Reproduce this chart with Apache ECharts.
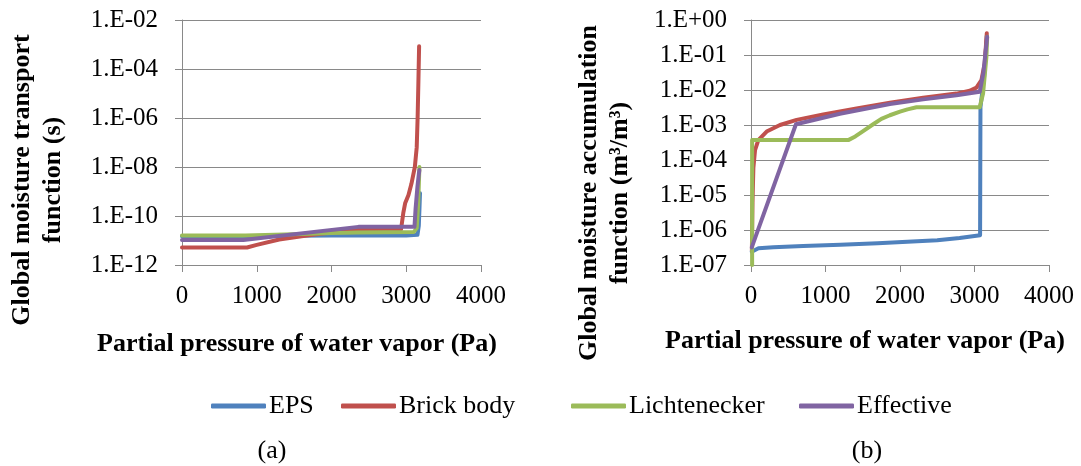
<!DOCTYPE html>
<html>
<head>
<meta charset="utf-8">
<script src="https://cdn.jsdelivr.net/npm/echarts@6/dist/echarts.min.js"></script>
<style>
html,body{margin:0;padding:0;background:#fff;}
#main{width:1081px;height:466px;}
</style>
</head>
<body>
<div id="main"></div>
<script>
// ---------- DATA ----------
const seriesNames = ['EPS', 'Brick body', 'Lichtenecker', 'Effective'];
const xTickValues = [0, 1000, 2000, 3000, 4000];
const xTickLabels = ['0', '1000', '2000', '3000', '4000'];

// (a) Global moisture transport function (s)
const leftTickValues = [1e-12, 1e-10, 1e-8, 1e-6, 1e-4, 1e-2];
const leftTickLabels = ['1.E-12', '1.E-10', '1.E-08', '1.E-06', '1.E-04', '1.E-02'];

const pA_EPS = [0, 500, 1000, 1500, 2000, 2500, 3000, 3150, 3168, 3178, 3184];
const vA_EPS = [1.5e-11, 1.5e-11, 1.5e-11, 1.55e-11, 1.6e-11, 1.6e-11, 1.6e-11, 1.7e-11, 4e-11, 2.5e-10, 8.5e-10];

const pA_Brick = [0, 870, 1000, 1300, 1600, 1850, 2100, 2350, 2930, 2960, 2985, 3030, 3070, 3115, 3140, 3152, 3162, 3172];
const vA_Brick = [5.2e-12, 5.2e-12, 6.6e-12, 1.1e-11, 1.5e-11, 1.9e-11, 2.3e-11, 2.7e-11, 2.8e-11, 1.3e-10, 3.3e-10, 7.2e-10, 2.1e-9, 1e-8, 6.3e-8, 1e-6, 2.5e-5, 8.5e-4];

const pA_Lich = [0, 850, 1500, 2000, 2350, 3100, 3140, 3160, 3176];
const vA_Lich = [1.6e-11, 1.6e-11, 1.8e-11, 2e-11, 2.1e-11, 2.2e-11, 3.2e-11, 3.2e-10, 1e-8];

const pA_Eff = [0, 820, 2360, 3110, 3125, 3150, 3168, 3176];
const vA_Eff = [1.05e-11, 1.05e-11, 3.6e-11, 3.6e-11, 2e-10, 1.6e-9, 5e-9, 7.5e-9];

// (b) Global moisture accumulation function (m3/m3)
const rightTickValues = [1e-7, 1e-6, 1e-5, 1e-4, 1e-3, 1e-2, 1e-1, 1];
const rightTickLabels = ['1.E-07', '1.E-06', '1.E-05', '1.E-04', '1.E-03', '1.E-02', '1.E-01', '1.E+00'];

const pB_EPS = [10, 100, 300, 700, 1200, 1700, 2100, 2500, 2800, 3075, 3080, 3130, 3165];
const vB_EPS = [2.4e-7, 3e-7, 3.2e-7, 3.5e-7, 3.8e-7, 4.2e-7, 4.6e-7, 5.1e-7, 5.9e-7, 7.1e-7, 3.2e-3, 2.5e-2, 3.5e-1];

const pB_Brick = [12, 20, 32, 54, 98, 210, 389, 612, 970, 1417, 1864, 2311, 2758, 2936, 3026, 3093, 3137, 3165];
const vB_Brick = [2.5e-7, 6e-6, 6e-5, 1.9e-4, 3.7e-4, 6.5e-4, 1e-3, 1.4e-3, 2e-3, 2.95e-3, 4.3e-3, 6e-3, 7.9e-3, 9.5e-3, 1.17e-2, 1.9e-2, 5.8e-2, 4.2e-1];

const pB_Lich = [15, 15, 1305, 1400, 1500, 1640, 1750, 1864, 2000, 2100, 2221, 3070, 3115, 3160, 3170];
const vB_Lich = [1e-7, 3.7e-4, 3.7e-4, 4.7e-4, 6.6e-4, 1.05e-3, 1.5e-3, 1.9e-3, 2.4e-3, 2.8e-3, 3.2e-3, 3.2e-3, 7.9e-3, 8.9e-2, 3.3e-1];

const pB_Eff = [10, 603, 1193, 1864, 2311, 2758, 3070, 3120, 3170];
const vB_Eff = [3.2e-7, 1.05e-3, 2.1e-3, 4e-3, 5.4e-3, 7.1e-3, 8.9e-3, 3.2e-2, 3.3e-1];

// ---------- STYLE ----------
const colors = ['#4F81BD', '#C0504D', '#9BBB59', '#8064A2'];
const FONT = 'Liberation Serif';
const GRID_COLOR = '#898989';

function zip(p, v) { return p.map((x, i) => [x, v[i]]); }
function logLabelFor(values, labels) {
  return function (val) {
    let best = 0, bd = Infinity;
    for (let i = 0; i < values.length; i++) {
      const d = Math.abs(Math.log10(val) - Math.log10(values[i]));
      if (d < bd) { bd = d; best = i; }
    }
    return labels[best];
  };
}
function linLabel(val) {
  const i = xTickValues.indexOf(val);
  return i >= 0 ? xTickLabels[i] : String(val);
}

const chart = echarts.init(document.getElementById('main'), null, { renderer: 'canvas' });

function xAxisCfg(gi) {
  return {
    type: 'value', gridIndex: gi, min: xTickValues[0], max: xTickValues[xTickValues.length - 1], interval: 1000,
    axisLine: { show: true, lineStyle: { color: GRID_COLOR, width: 1 } },
    axisTick: { show: true, length: 7, lineStyle: { color: GRID_COLOR, width: 1 } },
    splitLine: { show: false },
    axisLabel: { fontFamily: FONT, fontSize: 25, color: '#000', margin: 19, formatter: linLabel }
  };
}
function yAxisCfg(gi, min, max, interval, vals, labs) {
  return {
    type: 'log', logBase: 10, gridIndex: gi, min: min, max: max, interval: interval,
    axisLine: { show: true, lineStyle: { color: GRID_COLOR, width: 1 } },
    axisTick: { show: true, length: 7, lineStyle: { color: GRID_COLOR, width: 1 } },
    splitLine: { show: true, lineStyle: { color: GRID_COLOR, width: 1 } },
    minorTick: { show: false }, minorSplitLine: { show: false },
    axisLabel: { fontFamily: FONT, fontSize: 25, color: '#000', margin: 24, formatter: logLabelFor(vals, labs) }
  };
}

const dataA = [zip(pA_EPS, vA_EPS), zip(pA_Brick, vA_Brick), zip(pA_Lich, vA_Lich), zip(pA_Eff, vA_Eff)];
const dataB = [zip(pB_EPS, vB_EPS), zip(pB_Brick, vB_Brick), zip(pB_Lich, vB_Lich), zip(pB_Eff, vB_Eff)];

const series = [];
[dataA, dataB].forEach((set, gi) => {
  set.forEach((d, i) => {
    series.push({
      name: seriesNames[i], type: 'line', xAxisIndex: gi, yAxisIndex: gi,
      data: d, showSymbol: false, symbol: 'none', smooth: false, animation: false,
      lineStyle: { color: colors[i], width: 4, cap: 'round', join: 'round' },
      itemStyle: { color: colors[i] }
    });
  });
});

const legendLefts = [211, 341, 571, 799];
const legends = seriesNames.map((n, i) => ({
  data: [n], left: legendLefts[i], top: 393, padding: 0,
  icon: 'roundRect', itemWidth: 55, itemHeight: 5, itemGap: 0,
  textStyle: { fontFamily: FONT, fontSize: 26, color: '#000', padding: [0, 0, 0, -2] }
}));

function txt(x, y, text, weight, rot) {
  return {
    type: 'text', x: x, y: y, rotation: rot || 0, silent: true,
    style: {
      text: text, fill: '#000',
      fontFamily: FONT, fontSize: 26, fontWeight: weight,
      align: 'center', verticalAlign: 'middle',
      textAlign: 'center', textVerticalAlign: 'middle', lineHeight: 31
    }
  };
}

chart.setOption({
  backgroundColor: '#fff',
  animation: false,
  color: colors,
  grid: [
    { left: 182, top: 20, width: 299, height: 245, containLabel: false },
    { left: 751, top: 20, width: 298, height: 245, containLabel: false }
  ],
  xAxis: [xAxisCfg(0), xAxisCfg(1)],
  yAxis: [
    yAxisCfg(0, 1e-12, 1e-2, 2, leftTickValues, leftTickLabels),
    yAxisCfg(1, 1e-7, 1, 1, rightTickValues, rightTickLabels)
  ],
  legend: legends,
  series: series,
  graphic: [
    txt(38, 180, 'Global moisture transport\nfunction (s)', 'bold', Math.PI / 2),
    txt(605, 193, 'Global moisture accumulation\nfunction (m³/m³)', 'bold', Math.PI / 2),
    txt(297, 344, 'Partial pressure of water vapor (Pa)', 'bold'),
    txt(865, 341, 'Partial pressure of water vapor (Pa)', 'bold'),
    txt(272, 451, '(a)', 'normal'),
    txt(867, 451, '(b)', 'normal')
  ]
});
</script>
</body>
</html>
